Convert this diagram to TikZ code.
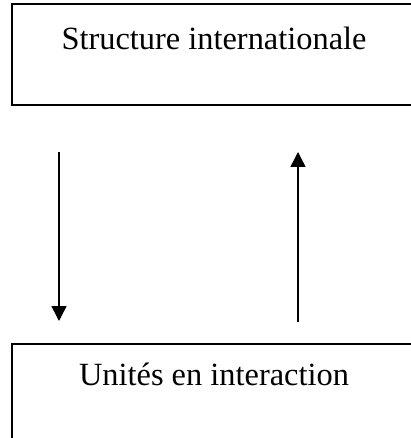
\documentclass[tikz,border=0pt]{standalone}
\usepackage{fontspec}
\setmainfont{Liberation Serif}
\usetikzlibrary{arrows.meta}

\tikzset{
    cadre/.style={draw, line width=1.6pt, anchor=north west, inner sep=0pt},
    titre/.style={anchor=base, font=\fontsize{32.4pt}{39pt}\selectfont, inner sep=0pt},
    fleche/.style={line width=1.5pt, -{Triangle[length=15pt,width=15pt]}}
}

\begin{document}
\begin{tikzpicture}[x=1pt, y=-1pt]
    \useasboundingbox (0,0) rectangle (411,438);
    \node[cadre, minimum width=410pt, minimum height=101pt] (haut) at (11,3) {};
    \node[cadre, minimum width=410pt, minimum height=101pt] (bas) at (11,343) {};
    \node[titre] (structure) at (214,50) {Structure internationale};
    \node[titre] (unites) at (214,385) {Unités en interaction};
    \coordinate (d1) at (59,152);
    \coordinate (d2) at (59,321);
    \coordinate (m1) at (298,322);
    \coordinate (m2) at (298,152);
    \draw[fleche] (d1) -- (d2);
    \draw[fleche] (m1) -- (m2);
\end{tikzpicture}
\end{document}
